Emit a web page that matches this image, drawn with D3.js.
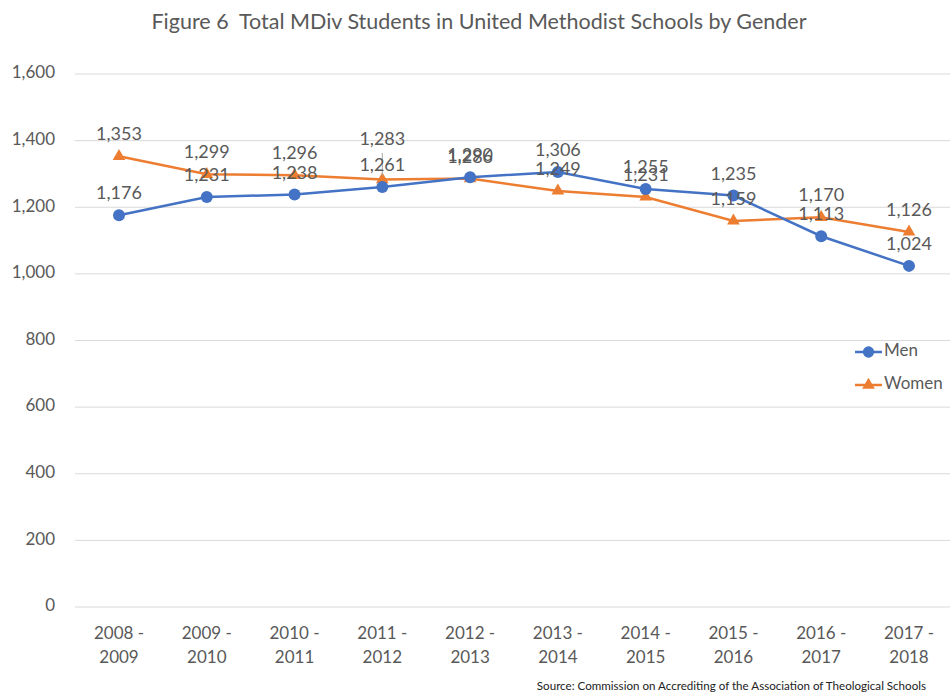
<!DOCTYPE html>
<html>
<head>
<meta charset="utf-8">
<script src="https://cdn.jsdelivr.net/npm/d3@7"></script>
<style>
  body { margin: 0; background: #fff; }
  svg { font-family: Lato, "Open Sans", sans-serif; }
</style>
</head>
<body>
<div id="chart"></div>
<script>
// chart data
const years = ["2008 - 2009", "2009 - 2010", "2010 - 2011", "2011 - 2012", "2012 - 2013",
               "2013 - 2014", "2014 - 2015", "2015 - 2016", "2016 - 2017", "2017 - 2018"];
const men = [1176, 1231, 1238, 1261, 1290, 1306, 1255, 1235, 1113, 1024];
const women = [1353, 1299, 1296, 1283, 1286, 1249, 1231, 1159, 1170, 1126];
const yTicks = [0, 200, 400, 600, 800, 1000, 1200, 1400, 1600];

const W = 950, H = 693;
const textCol = "#595959";
const fmt = d3.format(",");

const svg = d3.select("#chart").append("svg").attr("width", W).attr("height", H);

const x = d3.scalePoint().domain(years).range([119, 909]);
const y = d3.scaleLinear().domain([0, 1600]).range([607, 74]);

// gridlines
svg.append("g").selectAll("line")
  .data(yTicks).enter().append("line")
    .attr("x1", 75).attr("x2", 953)
    .attr("y1", d => y(d)).attr("y2", d => y(d))
    .attr("stroke", "#d9d9d9").attr("stroke-width", 1);

// y axis labels
svg.append("g").selectAll("text")
  .data(yTicks).enter().append("text")
    .attr("x", 55).attr("y", d => y(d))
    .attr("text-anchor", "end").attr("dominant-baseline", "middle")
    .attr("fill", textCol).attr("font-size", 17)
    .text(d => fmt(d));

// x axis labels, two lines
const xl = svg.append("g").selectAll("text")
  .data(years).enter().append("text")
    .attr("text-anchor", "middle")
    .attr("fill", textCol).attr("font-size", 17);
xl.append("tspan").attr("x", d => x(d)).attr("y", 639).text(d => d.split(" - ")[0] + " -");
xl.append("tspan").attr("x", d => x(d)).attr("y", 663).text(d => d.split(" - ")[1]);

const line = d3.line().x((d, i) => x(years[i])).y(d => y(d));

// women series
svg.append("path").datum(women)
  .attr("d", line).attr("fill", "none")
  .attr("stroke", "#ed7d31").attr("stroke-width", 2.5);
svg.append("g").selectAll("path")
  .data(women).enter().append("path")
    .attr("d", d3.symbol(d3.symbolTriangle, 70))
    .attr("transform", (d, i) => `translate(${x(years[i])},${y(d)})`)
    .attr("fill", "#ed7d31");

// men series
svg.append("path").datum(men)
  .attr("d", line).attr("fill", "none")
  .attr("stroke", "#4472c4").attr("stroke-width", 2.5);
svg.append("g").selectAll("circle")
  .data(men).enter().append("circle")
    .attr("cx", (d, i) => x(years[i])).attr("cy", d => y(d))
    .attr("r", 6).attr("fill", "#4472c4");

// leader line for moved label
svg.append("line")
  .attr("x1", x(years[3])).attr("x2", x(years[3]))
  .attr("y1", 153).attr("y2", y(women[3]) - 4)
  .attr("stroke", "#a6a6a6").attr("stroke-width", 1);

// data labels
svg.append("g").selectAll("text")
  .data(men).enter().append("text")
    .attr("x", (d, i) => x(years[i])).attr("y", d => y(d) - 16)
    .attr("text-anchor", "middle").attr("fill", textCol).attr("font-size", 18)
    .text(d => fmt(d));
svg.append("g").selectAll("text")
  .data(women).enter().append("text")
    .attr("x", (d, i) => x(years[i])).attr("y", (d, i) => i === 3 ? 145 : y(d) - 16)
    .attr("text-anchor", "middle").attr("fill", textCol).attr("font-size", 18)
    .text(d => fmt(d));

// legend
const legend = [["Men", "#4472c4", "circle"], ["Women", "#ed7d31", "tri"]];
const lg = svg.append("g").selectAll("g")
  .data(legend).enter().append("g")
    .attr("transform", (d, i) => `translate(855,${352 + i * 33})`);
lg.append("line").attr("x1", 0).attr("x2", 27).attr("stroke", d => d[1]).attr("stroke-width", 2.5);
lg.append("path")
  .attr("d", d => d3.symbol(d[2] === "circle" ? d3.symbolCircle : d3.symbolTriangle, d[2] === "circle" ? 100 : 70)())
  .attr("transform", "translate(13.5,0)")
  .attr("fill", d => d[1]);
lg.append("text").attr("x", 29).attr("dominant-baseline", "middle")
  .attr("fill", textCol).attr("font-size", 17).text(d => d[0]);

// title
svg.append("text").attr("x", 479).attr("y", 29)
  .attr("text-anchor", "middle").attr("fill", textCol).attr("font-size", 21.5)
  .style("white-space", "pre")
  .text("Figure 6  Total MDiv Students in United Methodist Schools by Gender");

// source
svg.append("text").attr("x", 926).attr("y", 690)
  .attr("text-anchor", "end").attr("fill", "#222").attr("font-size", 11.6)
  .text("Source: Commission on Accrediting of the Association of Theological Schools");
</script>
</body>
</html>
